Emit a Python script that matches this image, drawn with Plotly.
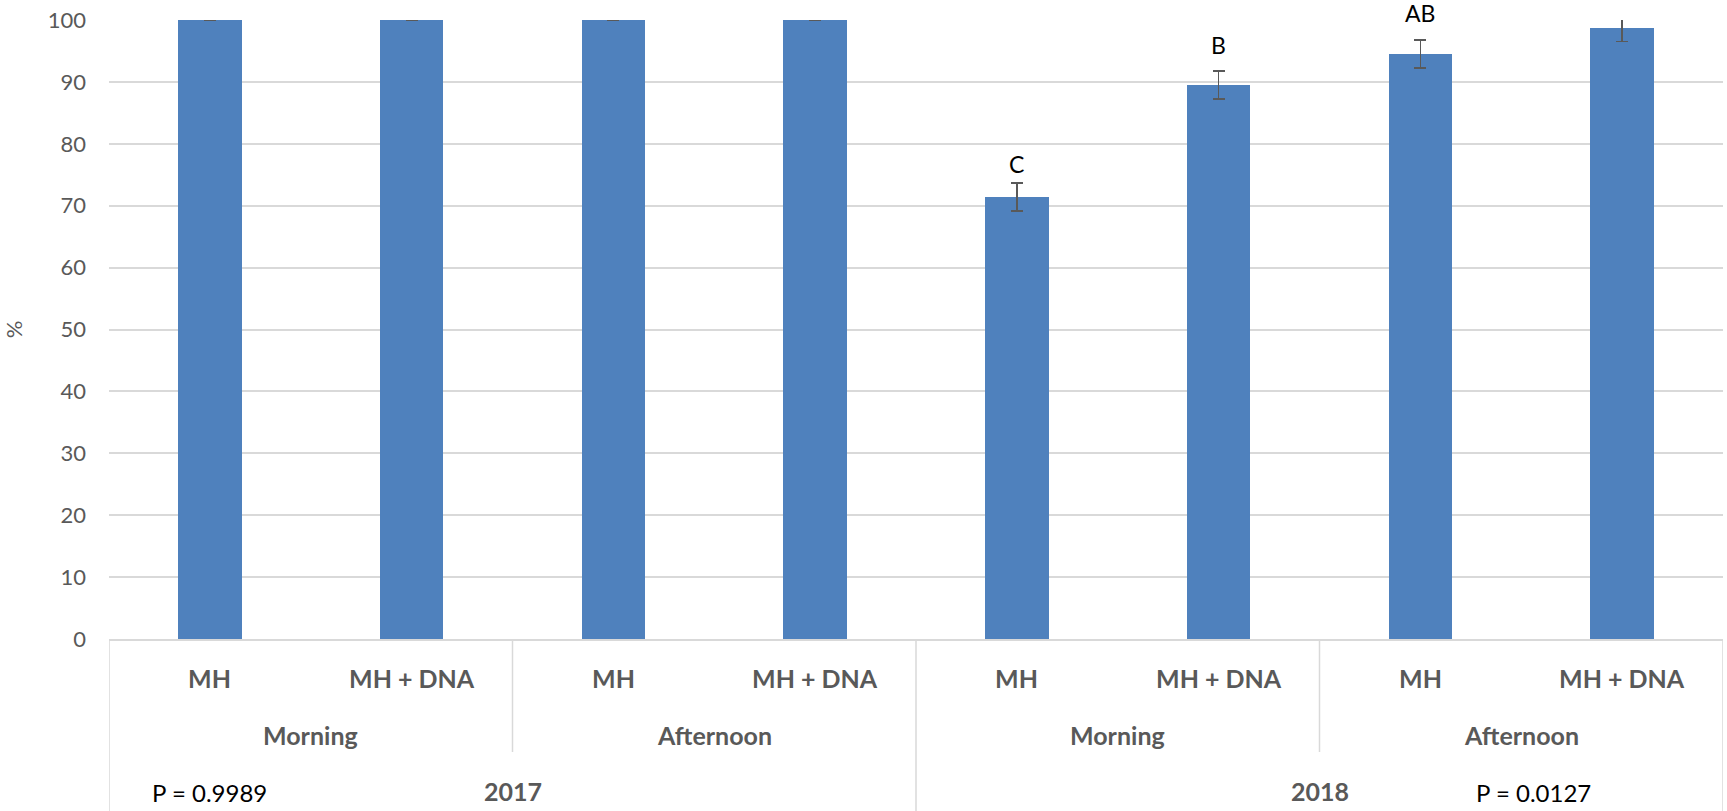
import plotly.graph_objects as go

# Treatment / time-of-day / year hierarchy for the eight bars
treatments = ["MH", "MH + DNA", "MH", "MH + DNA", "MH", "MH + DNA", "MH", "MH + DNA"]
times = ["Morning", "Afternoon", "Morning", "Afternoon"]
years = ["2017", "2018"]
p_values = ["P = 0.9989", "P = 0.0127"]

# Mean percentage, standard error and significance letters per bar
values = [100, 100, 100, 100, 71.4, 89.5, 94.5, 98.7]
errors = [0, 0, 0, 0, 2.3, 2.3, 2.3, 2.2]
letters = ["", "", "", "", "C", "B", "AB", ""]

y_ticks = [0, 10, 20, 30, 40, 50, 60, 70, 80, 90, 100]

FONT = "Lato"
GREY = "#595959"
LINE = "#D9D9D9"
BLUE = "#4F81BD"
LABEL_SIZE = 25

# pixel lift of each letter above its error bar
letter_lift = [0, 0, 0, 0, 3, 10, 11, 0]

x_idx = list(range(len(values)))

fig = go.Figure()
fig.add_trace(go.Bar(
    x=x_idx,
    y=values,
    width=0.315,
    marker=dict(color=BLUE, line=dict(width=0)),
    error_y=dict(type="data", array=errors, visible=True,
                 color=GREY, thickness=1.6, width=6),
    hoverinfo="skip",
))

annotations = []
# significance letters above the error bars
for i, (v, e, t) in enumerate(zip(values, errors, letters)):
    if t:
        annotations.append(dict(
            x=i, y=v + e, xref="x", yref="y", text=t, showarrow=False,
            yanchor="bottom", yshift=letter_lift[i],
            font=dict(family=FONT, size=23, color="black")))

# first row: treatment
for i, t in enumerate(treatments):
    annotations.append(dict(
        x=i, y=0, xref="x", yref="paper", text=t, showarrow=False,
        yanchor="middle", yshift=-39,
        font=dict(family=FONT, size=LABEL_SIZE, color=GREY, weight="bold")))

# second row: time of day
for j, t in enumerate(times):
    annotations.append(dict(
        x=2 * j + 0.5, y=0, xref="x", yref="paper", text=t, showarrow=False,
        yanchor="middle", yshift=-96,
        font=dict(family=FONT, size=LABEL_SIZE, color=GREY, weight="bold")))

# third row: year
for k, t in enumerate(years):
    annotations.append(dict(
        x=4 * k + 1.5, y=0, xref="x", yref="paper", text=t, showarrow=False,
        yanchor="middle", yshift=-152,
        font=dict(family=FONT, size=LABEL_SIZE, color=GREY, weight="bold")))

# P-value text boxes
for xp, t in zip([0.0, 6.56], p_values):
    annotations.append(dict(
        x=xp, y=0, xref="x", yref="paper", text=t, showarrow=False,
        yanchor="middle", yshift=-153,
        font=dict(family=FONT, size=24, color="black")))

# table divider lines below the axis
plot_h = 811 - 20 - 172
bottom = -172 / plot_h
mid = -(752 - 639) / plot_h
shapes = []
for xd, yb in [(-0.5, bottom), (1.5, mid), (3.5, bottom), (5.5, mid), (7.5, bottom)]:
    shapes.append(dict(type="line", xref="x", yref="paper",
                       x0=xd, x1=xd, y0=0, y1=yb,
                       line=dict(color=LINE, width=1.5)))

fig.update_layout(
    width=1727, height=811,
    margin=dict(l=102, r=4, t=20, b=172),
    paper_bgcolor="white", plot_bgcolor="white",
    showlegend=False,
    bargap=0,
    annotations=annotations,
    shapes=shapes,
    xaxis=dict(range=[-0.5, 7.5], showticklabels=False, ticks="",
               showgrid=False, zeroline=False,
               showline=True, linecolor=LINE, linewidth=1.5),
    yaxis=dict(range=[0, 100], tickvals=y_ticks, ticks="",
               showgrid=True, gridcolor=LINE, gridwidth=1.5,
               zeroline=False, showline=False,
               ticklabelstandoff=22,
               tickfont=dict(family=FONT, size=22, color=GREY),
               title=dict(text="%", standoff=28,
                          font=dict(family=FONT, size=22, color=GREY))),
)

fig.write_html("out.html")
